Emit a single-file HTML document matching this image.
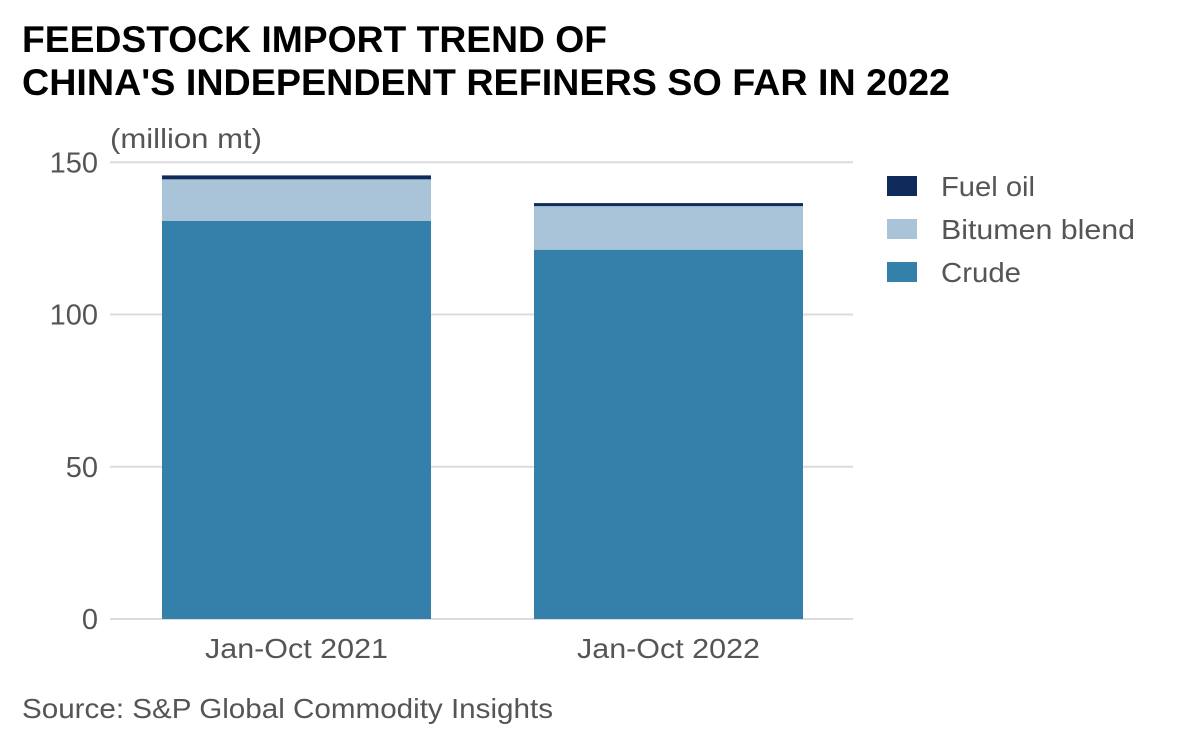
<!DOCTYPE html>
<html><head><meta charset="utf-8"><style>
body{margin:0;background:#fff;font-family:"Liberation Sans",sans-serif;}
svg{display:block}
</style></head><body>
<svg id="chart" width="1200" height="742" xmlns="http://www.w3.org/2000/svg">
<text x="22" y="52" font-size="37" font-weight="bold" fill="#000" textLength="585" lengthAdjust="spacingAndGlyphs">FEEDSTOCK IMPORT TREND OF</text>
<text x="22" y="95" font-size="37" font-weight="bold" fill="#000" textLength="928" lengthAdjust="spacingAndGlyphs">CHINA'S INDEPENDENT REFINERS SO FAR IN 2022</text>
<text x="110" y="148" font-size="28" fill="#555" textLength="152" lengthAdjust="spacingAndGlyphs">(million mt)</text>
<g id="grid"></g><g id="bars"></g><g id="legend"></g>
<text x="22" y="718" font-size="28" fill="#555" textLength="531" lengthAdjust="spacingAndGlyphs">Source: S&amp;P Global Commodity Insights</text>
</svg>
<script>
const categories=["Jan-Oct 2021","Jan-Oct 2022"];
const crude=[130.8,121.3];
const bitumen=[13.6,14.3];
const fuelOil=[1.3,1.0];
const yTicks=[0,50,100,150];
const seriesNames=["Fuel oil","Bitumen blend","Crude"];
const NS="http://www.w3.org/2000/svg";
const svg=document.getElementById('chart');
const y0=619,pxPer=(619-162.3)/150,x0=110,x1=853;
const y=v=>y0-v*pxPer;
const bx=i=>162+i*372,bw=269;
function mk(t,a,p){const e=document.createElementNS(NS,t);for(const k in a)e.setAttribute(k,a[k]);p.appendChild(e);return e;}
const grid=document.getElementById('grid');
yTicks.forEach(t=>{
 const l=mk('line',{x1:x0,x2:x1,y1:y(t),y2:y(t),stroke:'#dcdcdc','stroke-width':2},grid);
 
 
 const tx=mk('text',{x:98,y:y(t)+10,'font-size':29,fill:'#555','text-anchor':'end'},grid);
 tx.textContent=t;
 
 
});
const bars=document.getElementById('bars');
categories.forEach((c,i)=>{
 const segs=[[crude[i],'#357fab','crude'],[bitumen[i],'#a9c4d9','bitumen'],[fuelOil[i],'#0f2b5b','fuel-oil']];
 let base=0;
 segs.forEach(s=>{
  const r=mk('rect',{x:bx(i),width:bw,y:y(base+s[0]),height:s[0]*pxPer,fill:s[1]},bars);
  
  
  base+=s[0];
 });
 const tx=mk('text',{x:bx(i)+bw/2,y:658,'font-size':28,fill:'#555','text-anchor':'middle',textLength:183,lengthAdjust:'spacingAndGlyphs'},bars);
 tx.textContent=c;
 
 
});
const lg=document.getElementById('legend');
const cols=['#0f2b5b','#a9c4d9','#357fab'];
const lens=[94,194,80];
seriesNames.forEach((n,i)=>{
 const g=mk('g',{},lg);
 
 
 mk('rect',{x:887,y:176+i*43,width:30,height:20,fill:cols[i]},g);
 const t=mk('text',{x:941,y:196+i*43,'font-size':28,fill:'#555',textLength:lens[i],lengthAdjust:'spacingAndGlyphs'},g);
 t.textContent=n;
});
</script>
</body></html>
